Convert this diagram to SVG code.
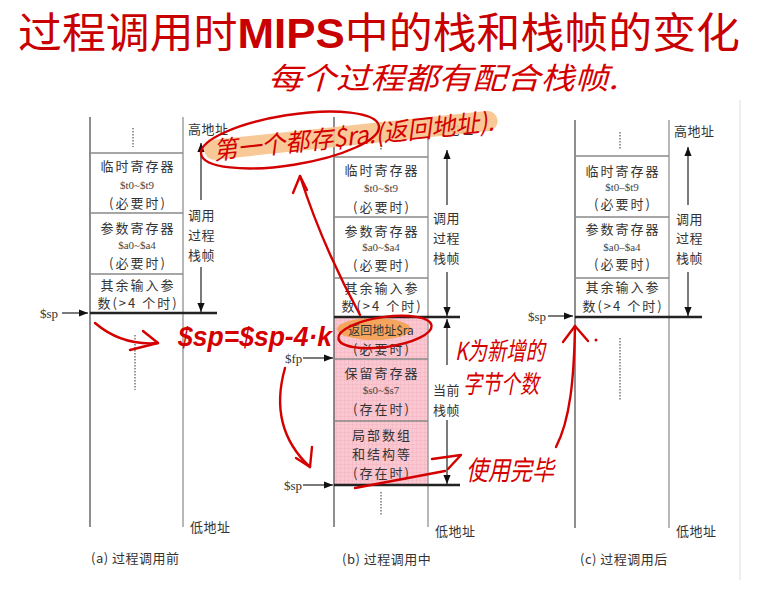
<svg xmlns="http://www.w3.org/2000/svg" width="768" height="590" viewBox="0 0 768 590">
<defs>
<style>
.cn{font-family:"Noto Sans CJK SC","Noto Sans CJK JP",sans-serif;font-size:13px;fill:#333;letter-spacing:2px;text-anchor:middle;dominant-baseline:central}
.lb{font-family:"Noto Sans CJK SC","Noto Sans CJK JP",sans-serif;font-size:13px;fill:#333;letter-spacing:0.5px;dominant-baseline:central}
.reg{font-family:"Liberation Serif",serif;font-size:11px;fill:#444;text-anchor:middle;dominant-baseline:central}
.ptr{font-family:"Liberation Serif",serif;font-size:13px;fill:#333;dominant-baseline:central}
.hw{font-family:"Noto Sans CJK SC","Noto Sans CJK JP",sans-serif;fill:#d40000;font-style:italic}
.hwl{font-family:"Liberation Sans",Arial,sans-serif;fill:#d40000;font-style:italic}
.vl{stroke:#444;stroke-width:1.2}
.vr{stroke:#999;stroke-width:1.4}
.sep{stroke:#888;stroke-width:1.6}
.spl{stroke:#222;stroke-width:2.6}
.dots{stroke:#777;stroke-width:1.5;stroke-dasharray:1.5 1.5}
.arr{stroke:#222;stroke-width:1.2;fill:none}
.red{stroke:#d40000;stroke-width:2.4;fill:none;stroke-linecap:round;stroke-linejoin:round}
</style>
<marker id="ah" viewBox="0 0 10 10" refX="10" refY="5" markerWidth="9" markerHeight="9" markerUnits="userSpaceOnUse" orient="auto">
<path d="M0,1 L10,5 L0,9 z" fill="#111"/>
</marker>
<pattern id="grid" width="4" height="4" patternUnits="userSpaceOnUse">
<rect width="4" height="4" fill="#f9c8d1"/>
<path d="M0 0H4M0 0V4" stroke="#eea6b4" stroke-width="0.6"/>
</pattern>
</defs>
<rect width="768" height="590" fill="#fff"/>
<line x1="740" y1="100" x2="740" y2="580" stroke="#ddd" stroke-width="1"/>

<g id="title">
<text x="18" y="48" font-family="Noto Sans CJK SC, sans-serif" font-size="42" fill="#c80000" textLength="722" lengthAdjust="spacingAndGlyphs">过程调用时<tspan font-family="Liberation Sans, Arial, sans-serif" font-weight="bold">MIPS</tspan>中的栈和栈帧的变化</text>
</g>

<!-- Column (a) -->
<g id="col-a">
<line class="vl" x1="90" y1="117" x2="90" y2="527"/>
<line class="vr" x1="183" y1="117" x2="183" y2="527"/>
<g id="a-top"><line class="dots" x1="133" y1="128" x2="133" y2="147"/></g>
<line class="sep" x1="90" y1="153" x2="183" y2="153"/>
<g id="a-temp">
<text class="cn" x="138" y="165">临时寄存器</text>
<text class="reg" x="137" y="185">$t0~$t9</text>
<text class="cn" x="138" y="202">(必要时)</text>
</g>
<line class="sep" x1="90" y1="213" x2="183" y2="213"/>
<g id="a-args">
<text class="cn" x="138" y="227">参数寄存器</text>
<text class="reg" x="137" y="245">$a0~$a4</text>
<text class="cn" x="138" y="262">(必要时)</text>
</g>
<line class="sep" x1="90" y1="274" x2="183" y2="274"/>
<g id="a-extra">
<text class="cn" x="138" y="284">其余输入参</text>
<text class="cn" x="138" y="302">数(&gt;4 个时)</text>
</g>
<line class="spl" x1="90" y1="313" x2="217" y2="313"/>
<g id="a-below"><line class="dots" x1="135" y1="335" x2="135" y2="390"/></g>
<g id="a-labels">
<text class="lb" x="188" y="128">高地址</text>
<text class="lb" x="188" y="214">调用</text>
<text class="lb" x="188" y="234">过程</text>
<text class="lb" x="188" y="254">栈帧</text>
<text class="lb" x="190" y="526">低地址</text>
<text class="ptr" x="40" y="313">$sp</text>
<text class="lb" x="91" y="557">(a) 过程调用前</text>
</g>
</g>

<!-- Column (b) -->
<g id="col-b">
<rect x="334" y="317" width="94" height="168" fill="url(#grid)"/>
<line class="vl" x1="334" y1="117" x2="334" y2="527"/>
<line class="vr" x1="428" y1="117" x2="428" y2="527"/>
<g id="b-top"><line class="dots" x1="381" y1="133" x2="381" y2="150"/></g>
<line class="sep" x1="334" y1="157" x2="428" y2="157"/>
<g id="b-temp">
<text class="cn" x="382" y="169">临时寄存器</text>
<text class="reg" x="381" y="188">$t0~$t9</text>
<text class="cn" x="382" y="206">(必要时)</text>
</g>
<line class="sep" x1="334" y1="217" x2="428" y2="217"/>
<g id="b-args">
<text class="cn" x="382" y="230">参数寄存器</text>
<text class="reg" x="381" y="247">$a0~$a4</text>
<text class="cn" x="382" y="264">(必要时)</text>
</g>
<line class="sep" x1="334" y1="278" x2="428" y2="278"/>
<g id="b-extra">
<text class="cn" x="382" y="287">其余输入参</text>
<text class="cn" x="382" y="305">数(&gt;4 个时)</text>
</g>
<g id="b-ra">
<ellipse cx="374" cy="329" rx="37" ry="11" fill="#f5a04a" opacity="0.85"/>
<text class="cn" x="381" y="329" style="font-size:12px;letter-spacing:0">返回地址$ra</text>
<text class="cn" x="382" y="348">(必要时)</text>
</g>
<line class="sep" x1="334" y1="359" x2="428" y2="359"/>
<g id="b-saved">
<text class="cn" x="382" y="372">保留寄存器</text>
<text class="reg" x="381" y="390">$s0~$s7</text>
<text class="cn" x="382" y="408">(存在时)</text>
</g>
<line class="sep" x1="334" y1="421" x2="428" y2="421"/>
<g id="b-local">
<text class="cn" x="382" y="434">局部数组</text>
<text class="cn" x="382" y="453">和结构等</text>
<text class="cn" x="382" y="472">(存在时)</text>
</g>
<line class="spl" x1="334" y1="317" x2="460" y2="317"/>
<line class="spl" x1="334" y1="485" x2="460" y2="485"/>
<g id="b-below"><line class="dots" x1="381" y1="492" x2="381" y2="515"/></g>
<g id="b-labels">
<text class="lb" x="433" y="128">高地址</text>
<text class="lb" x="433" y="217">调用</text>
<text class="lb" x="433" y="237">过程</text>
<text class="lb" x="433" y="257">栈帧</text>
<text class="lb" x="433" y="389">当前</text>
<text class="lb" x="433" y="409">栈帧</text>
<text class="lb" x="435" y="530">低地址</text>
<text class="ptr" x="285" y="358">$fp</text>
<text class="ptr" x="284" y="485">$sp</text>
<text class="lb" x="342" y="558">(b) 过程调用中</text>
</g>
</g>

<!-- Column (c) -->
<g id="col-c">
<line class="vl" x1="575" y1="120" x2="575" y2="528"/>
<line class="vr" x1="669" y1="120" x2="669" y2="528"/>
<g id="c-top"><line class="dots" x1="620" y1="132" x2="620" y2="150"/></g>
<line class="sep" x1="575" y1="156" x2="669" y2="156"/>
<g id="c-temp">
<text class="cn" x="623" y="170">临时寄存器</text>
<text class="reg" x="622" y="187">$t0–$t9</text>
<text class="cn" x="623" y="203">(必要时)</text>
</g>
<line class="sep" x1="575" y1="217" x2="669" y2="217"/>
<g id="c-args">
<text class="cn" x="623" y="228">参数寄存器</text>
<text class="reg" x="622" y="247">$a0–$a4</text>
<text class="cn" x="623" y="263">(必要时)</text>
</g>
<line class="sep" x1="575" y1="278" x2="669" y2="278"/>
<g id="c-extra">
<text class="cn" x="623" y="286">其余输入参</text>
<text class="cn" x="623" y="305">数(&gt;4 个时)</text>
</g>
<line class="spl" x1="575" y1="317" x2="702" y2="317"/>
<g id="c-below"><line class="dots" x1="620" y1="338" x2="620" y2="400"/></g>
<g id="c-labels">
<text class="lb" x="674" y="130">高地址</text>
<text class="lb" x="676" y="218">调用</text>
<text class="lb" x="676" y="237">过程</text>
<text class="lb" x="676" y="257">栈帧</text>
<text class="lb" x="676" y="530">低地址</text>
<text class="ptr" x="528" y="316">$sp</text>
<text class="lb" x="580" y="558">(c) 过程调用后</text>
</g>
</g>

<g id="connectors">
<line class="arr" x1="62" y1="313" x2="88" y2="313" marker-end="url(#ah)"/>
<line class="arr" x1="201" y1="200" x2="201" y2="143" marker-end="url(#ah)"/>
<line class="arr" x1="201" y1="267" x2="201" y2="312" marker-end="url(#ah)"/>
<line class="arr" x1="303" y1="358" x2="333" y2="358" marker-end="url(#ah)"/>
<line class="arr" x1="303" y1="485" x2="333" y2="485" marker-end="url(#ah)"/>
<line class="arr" x1="447" y1="205" x2="447" y2="150" marker-end="url(#ah)"/>
<line class="arr" x1="447" y1="272" x2="447" y2="316" marker-end="url(#ah)"/>
<line class="arr" x1="447" y1="365" x2="447" y2="319" marker-end="url(#ah)"/>
<line class="arr" x1="447" y1="420" x2="447" y2="484" marker-end="url(#ah)"/>
<line class="arr" x1="548" y1="316" x2="573" y2="316" marker-end="url(#ah)"/>
<line class="arr" x1="688" y1="205" x2="688" y2="147" marker-end="url(#ah)"/>
<line class="arr" x1="688" y1="272" x2="688" y2="316" marker-end="url(#ah)"/>
</g>

<g id="annotations">
<text class="hw" x="268" y="89" font-size="30" textLength="350" lengthAdjust="spacingAndGlyphs">每个过程都有配合栈帧.</text>
<g transform="rotate(-6 212 158)">
<line x1="215" y1="150" x2="490" y2="150" stroke="#f8c48c" stroke-width="20" stroke-linecap="round" opacity="0.9"/>
<text class="hw" x="214" y="160" font-size="25" textLength="282" lengthAdjust="spacingAndGlyphs">第一个都存$ra.(返回地址).</text>
</g>
<ellipse class="red" cx="290" cy="140" rx="90" ry="25" transform="rotate(-9 290 140)"/>
<ellipse class="red" cx="385" cy="332" rx="47" ry="15" transform="rotate(-8 385 332)"/>
<path class="red" d="M360,315 Q322,245 300,176"/>
<path class="red" d="M293,193 L300,176 L307,190"/>
<path class="red" d="M95,323 Q122,346 158,343"/>
<path class="red" d="M143,331 L158,343 L130,350"/>
<text class="hwl" x="178" y="346" font-size="28" font-weight="bold" textLength="154" lengthAdjust="spacingAndGlyphs">$sp=$sp-4·k</text>
<path class="red" d="M285,368 Q268,428 310,467"/>
<path class="red" d="M296,458 L310,467 L312,447"/>
<text class="hw" x="455" y="360" font-size="25" textLength="90" lengthAdjust="spacingAndGlyphs">K为新增的</text>
<text class="hw" x="463" y="393" font-size="25" textLength="76" lengthAdjust="spacingAndGlyphs">字节个数</text>
<path class="red" d="M355,488 L445,471"/>
<path class="red" d="M432,459 L461,455 L448,469"/>
<text class="hw" x="466" y="480" font-size="27" textLength="88" lengthAdjust="spacingAndGlyphs">使用完毕</text>
<path class="red" d="M556,447 C570,420 574,380 575,326"/>
<path class="red" d="M563,342 L575,326 L588,341"/>
<circle cx="596" cy="340" r="1.5" fill="#d40000"/>
</g>
</svg>
